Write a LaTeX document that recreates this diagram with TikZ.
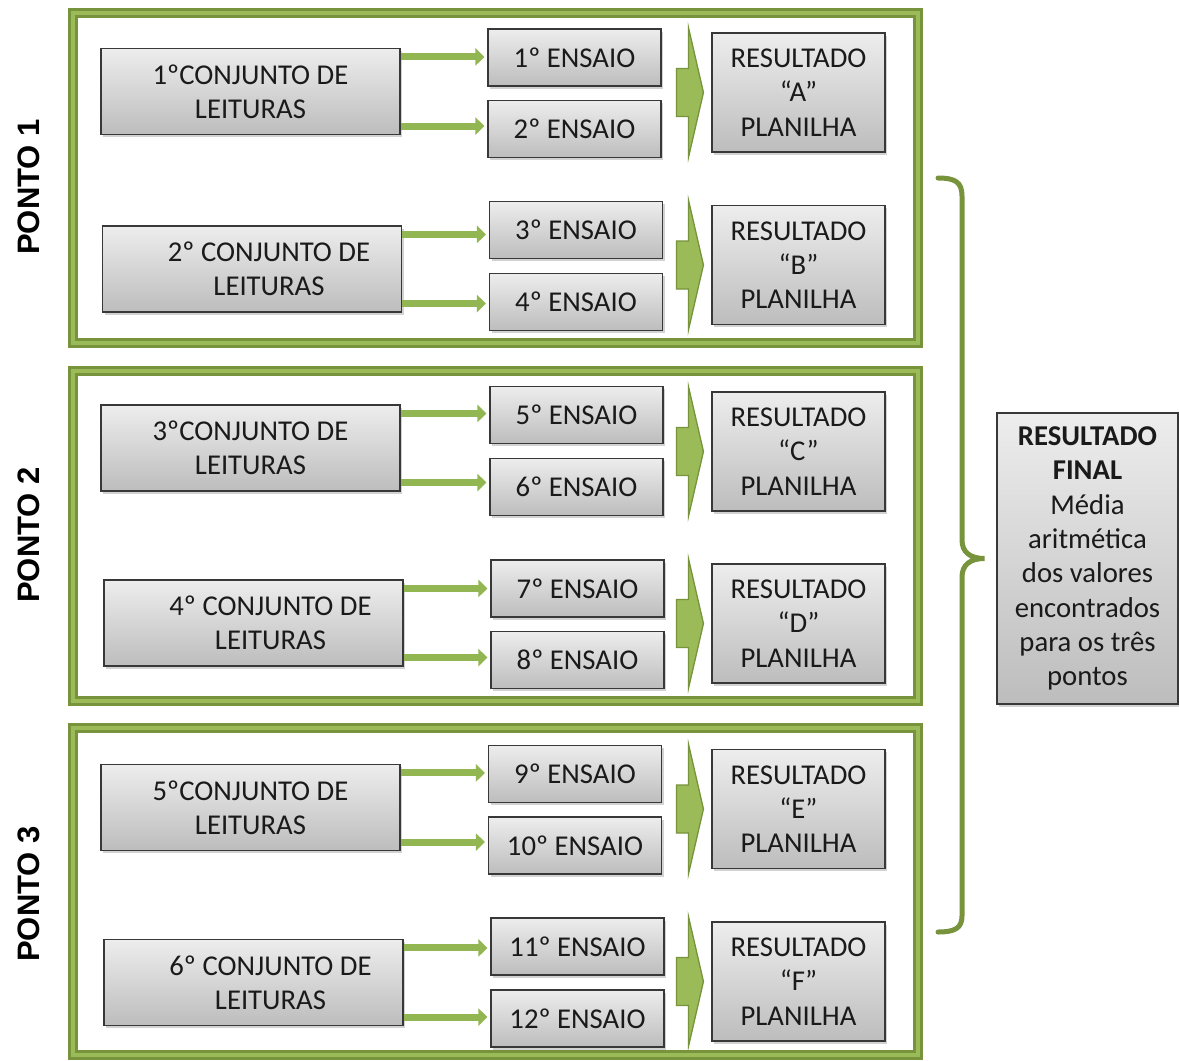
\documentclass[tikz,border=0pt]{standalone}
\usepackage{fontspec}
\setmainfont{Carlito}
\newfontfamily\pontofont{Liberation Sans}
\usetikzlibrary{arrows.meta,shadows,calc}
\definecolor{gdark}{HTML}{77933C}
\definecolor{glight}{HTML}{9BBB59}
\definecolor{garrow}{HTML}{92B652}
\definecolor{txt}{HTML}{1A1A1A}
\tikzset{
  gbox/.style={draw=black!78, line width=1.1pt, top color=black!7, bottom color=black!26,
    drop shadow={shadow xshift=2pt, shadow yshift=-2.5pt, opacity=.35},
    text=txt, align=center, inner sep=0pt, font=\fontsize{28.7}{34.3}\selectfont},
  cbox/.style={gbox, minimum width=299, minimum height=86},
  ebox/.style={gbox, minimum width=173, minimum height=57},
  rbox/.style={gbox, minimum width=173, minimum height=119},
  fbox/.style={gbox, minimum width=181, minimum height=291},
  frame/.style={draw=gdark, double=glight, double distance=4pt, line width=3pt},
  smallarr/.style={draw=garrow, line width=7pt, -{Triangle[width=17pt,length=9pt]}, shorten >=3pt},
  barrow/.style={fill=glight, draw=gdark, line width=1.3pt, line join=miter},
  brace/.style={draw=gdark, line width=5pt, line cap=round},
  ponto/.style={rotate=90, font=\pontofont\bfseries\fontsize{31}{31}\selectfont, text=black}
}
\newcommand\blockarr[1]{\filldraw[barrow] ([xshift=-8pt]#1.west) -- ++(-15,-65) -- ++(0,41) -- ++(-12,0) -- ++(0,48) -- ++(12,0) -- ++(0,41) -- cycle;}
\newcommand\twoarr[3]{%
  \draw[smallarr] ([yshift=-9pt]#1.north east) -- ([yshift=-9pt]#1.north east -| #2.west);
  \draw[smallarr] ([yshift=9pt]#1.south east) -- ([yshift=9pt]#1.south east -| #3.west);}
\begin{document}
\begin{tikzpicture}[x=1pt,y=-1pt]
\useasboundingbox (0,0) rectangle (1179,1061);
\fill[white] (0,0) rectangle (1179,1061);
% frames
\draw[frame] (73,13) rectangle (918,343);
\draw[frame] (73,371) rectangle (918,701);
\draw[frame] (73,728) rectangle (918,1055);
% ponto labels
\node[ponto] (p1) at (29,187) {PONTO 1};
\node[ponto] (p2) at (29,535) {PONTO 2};
\node[ponto] (p3) at (29,894) {PONTO 3};
% conjuntos
\node[cbox] (c1) at (250.5,91.5) {1ºCONJUNTO DE\\LEITURAS};
\node[cbox] (c2) at (252,269) {\hspace*{34pt}2º CONJUNTO DE\\\hspace*{34pt}LEITURAS};
\node[cbox] (c3) at (250.5,448) {3ºCONJUNTO DE\\LEITURAS};
\node[cbox] (c4) at (253.5,623) {\hspace*{34pt}4º CONJUNTO DE\\\hspace*{34pt}LEITURAS};
\node[cbox] (c5) at (250.5,807.5) {5ºCONJUNTO DE\\LEITURAS};
\node[cbox] (c6) at (253.5,982.5) {\hspace*{34pt}6º CONJUNTO DE\\\hspace*{34pt}LEITURAS};
% ensaios
\node[ebox] (e1) at (574.5,57.5) {1º ENSAIO};
\node[ebox] (e2) at (574.5,129) {2º ENSAIO};
\node[ebox] (e3) at (576,230) {3º ENSAIO};
\node[ebox] (e4) at (576,302) {4º ENSAIO};
\node[ebox] (e5) at (576.5,415) {5º ENSAIO};
\node[ebox] (e6) at (576.5,487) {6º ENSAIO};
\node[ebox] (e7) at (577.5,588.5) {7º ENSAIO};
\node[ebox] (e8) at (577.5,660) {8º ENSAIO};
\node[ebox] (e9) at (575,774) {9º ENSAIO};
\node[ebox] (e10) at (575,845.5) {10º ENSAIO};
\node[ebox] (e11) at (577.5,946.5) {11º ENSAIO};
\node[ebox] (e12) at (577.5,1018.5) {12º ENSAIO};
% resultados
\node[rbox] (rA) at (798.5,92.5) {RESULTADO\\“A”\\PLANILHA};
\node[rbox] (rB) at (798.5,265) {RESULTADO\\“B”\\PLANILHA};
\node[rbox] (rC) at (798.5,451.5) {RESULTADO\\“C”\\PLANILHA};
\node[rbox] (rD) at (798.5,623.5) {RESULTADO\\“D”\\PLANILHA};
\node[rbox] (rE) at (798.5,809) {RESULTADO\\“E”\\PLANILHA};
\node[rbox] (rF) at (798.5,981.5) {RESULTADO\\“F”\\PLANILHA};
% final
\node[fbox] (fin) at (1087.5,558.5) {\textbf{RESULTADO}\\\textbf{FINAL}\\Média\\aritmética\\dos valores\\encontrados\\para os três\\pontos};
% small arrows
\twoarr{c1}{e1}{e2}
\twoarr{c2}{e3}{e4}
\twoarr{c3}{e5}{e6}
\twoarr{c4}{e7}{e8}
\twoarr{c5}{e9}{e10}
\twoarr{c6}{e11}{e12}
% block arrows
\blockarr{rA}\blockarr{rB}\blockarr{rC}\blockarr{rD}\blockarr{rE}\blockarr{rF}
% brace
\coordinate (bt) at (938,178);
\coordinate (bb) at (938,932);
\coordinate (tip) at ([xshift=-12pt]fin.west);
\draw[brace] (bt) .. controls (955,178) and (962,182) .. (962,196) -- (962,540)
  .. controls (962,552) and (970,558.5) .. (tip)
  .. controls (970,558.5) and (962,565) .. (962,577) -- (962,916)
  .. controls (962,928) and (955,932) .. (bb);
\end{tikzpicture}
\end{document}
